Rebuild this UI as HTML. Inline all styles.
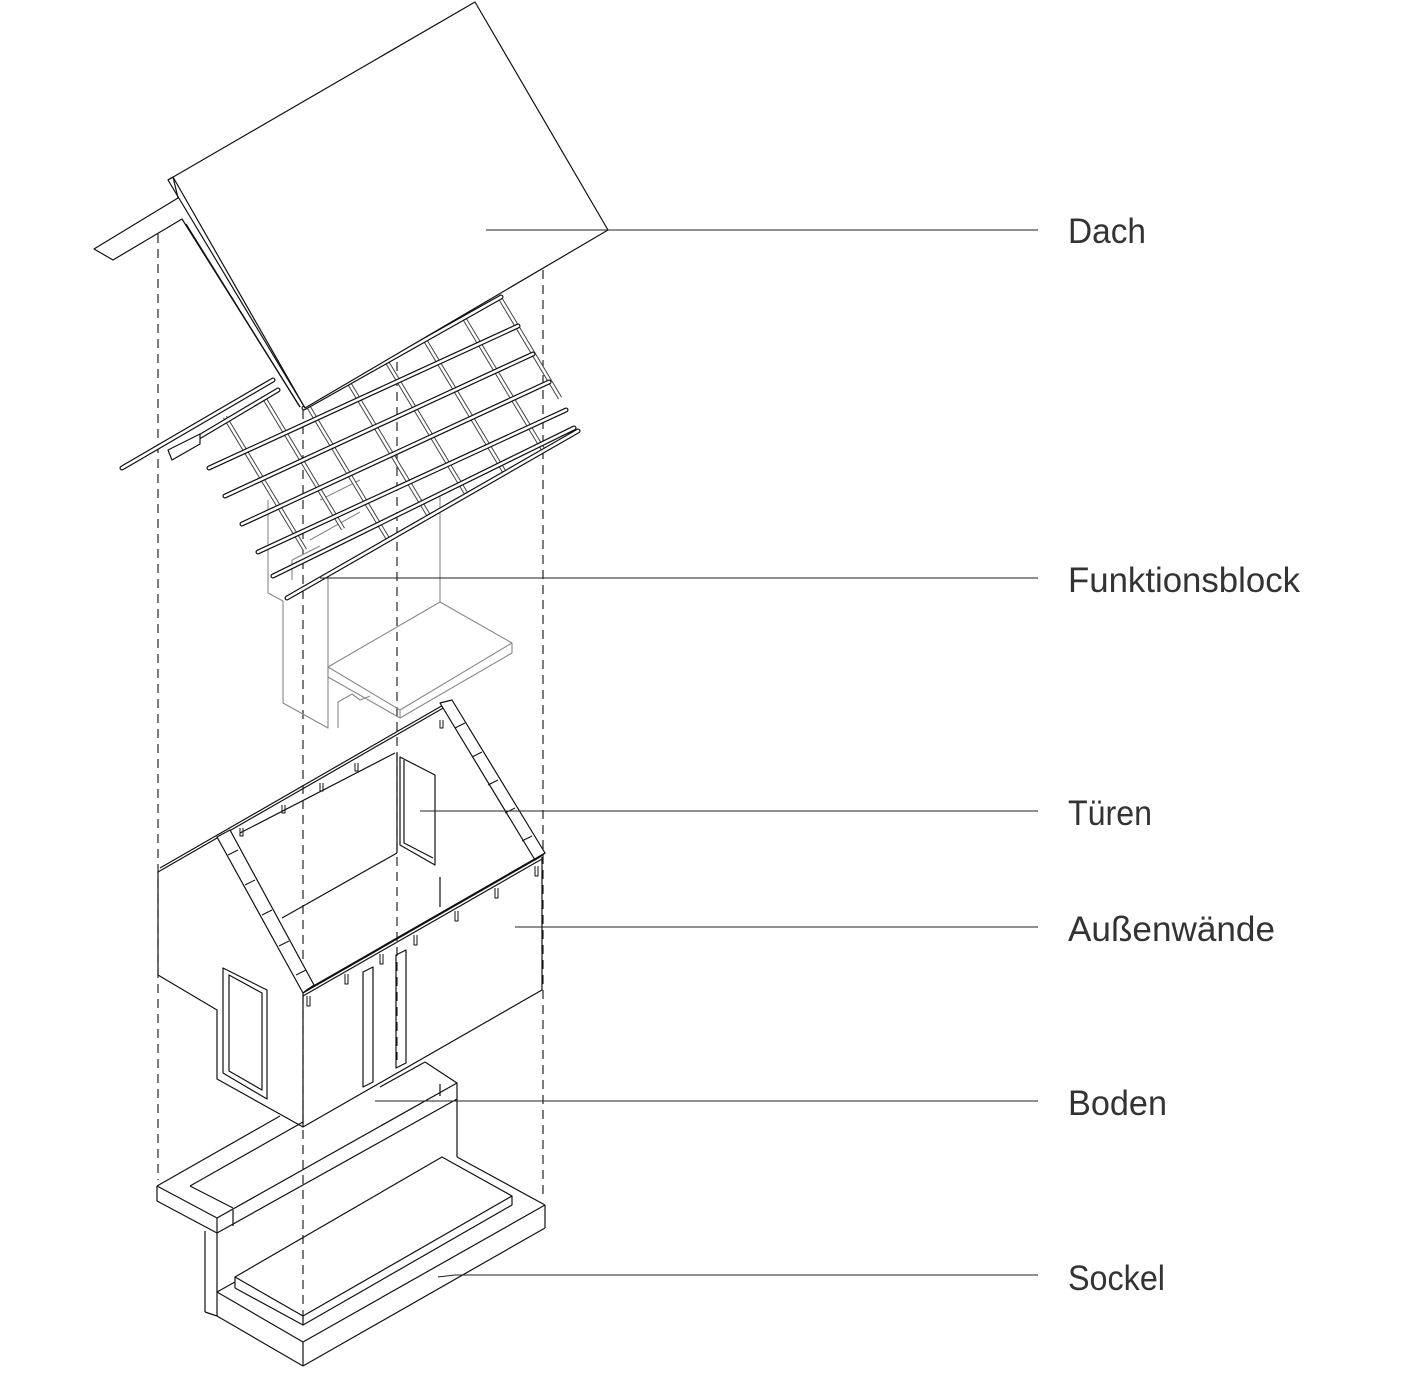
<!DOCTYPE html>
<html><head><meta charset="utf-8"><style>
html,body{margin:0;padding:0;background:#fff;}
svg{display:block;}
text{font-family:"Liberation Sans",sans-serif;font-size:35px;fill:#333;}
</style></head><body>
<svg width="1417" height="1375" viewBox="0 0 1417 1375" xmlns="http://www.w3.org/2000/svg">
<g fill="none" stroke="#111" stroke-width="1.2" stroke-linejoin="round">

<!-- dashed verticals -->
<g stroke-dasharray="9,6" stroke-width="1.1">
<line x1="158" y1="234" x2="158" y2="1180"/>
<line x1="303" y1="410" x2="303" y2="1320"/>
<line x1="397" y1="362" x2="397" y2="1060"/>
<line x1="543" y1="270" x2="543" y2="1200"/>
</g>

<!-- Funktionsblock (grey) -->
<g stroke="#888" stroke-width="1.1">
<polyline points="268,500 268,593 283,601 283,703 328,728 328,577"/>
<line x1="440" y1="493" x2="440" y2="602"/>
<polygon points="328,667 440,602 512,643 400,710"/>
<polyline points="328,667 328,677 400,718 512,653 512,643"/>
<line x1="400" y1="710" x2="400" y2="718"/>
<polyline points="338,702 338,728"/>
<polyline points="338,702 352,694 360,700 370,696"/>
<line x1="292" y1="560" x2="292" y2="580"/>
<line x1="292" y1="560" x2="320" y2="546"/>
<line x1="310" y1="540" x2="360" y2="512"/>
<line x1="320" y1="500" x2="360" y2="480"/>
</g>

<!-- rafter grid (double lines) -->
<g stroke="#444" stroke-width="4.5">
<path d="M225,417 L305,550 M263,396 L343,529 M308,406 L388,539 M349,383 L429,516 M387,362 L467,495 M425,340 L505,473 M464,318 L544,451 M500,298 L560,398"/>
</g>
<g stroke="#fff" stroke-width="2.5">
<path d="M225,417 L305,550 M263,396 L343,529 M308,406 L388,539 M349,383 L429,516 M387,362 L467,495 M425,340 L505,473 M464,318 L544,451 M500,298 L560,398"/>
</g>

<!-- rods -->
<g stroke="#111" stroke-width="5" stroke-linecap="round">
<path d="M304,408 L501,297 M209,468 L518,326 M225,496 L533,354 M242,524 L549,382 M258,552 L566,410 M273,576 L574,428 M287,598 L578,431 M194,440 L278,390 M122,468 L273,380"/>
</g>
<g stroke="#fff" stroke-width="2.6" stroke-linecap="round">
<path d="M304,408 L501,297 M209,468 L518,326 M225,496 L533,354 M242,524 L549,382 M258,552 L566,410 M273,576 L574,428 M287,598 L578,431 M194,440 L278,390 M122,468 L273,380"/>
</g>
<polygon points="168,450 200,434 200,444 172,460" fill="#fff"/>

<!-- roof -->
<polygon points="168,180 475,2 608,230 305,408" fill="#fff"/>
<polyline points="173,177 178,198 94,249 113,260 182,219 300,407"/>
<line x1="173" y1="177" x2="305" y2="408"/>
<line x1="168" y1="180" x2="173" y2="177"/>
<line x1="186" y1="224" x2="300" y2="407"/>

<!-- house walls -->
<polyline points="158,872 158,975 217,1010 217,1079 303,1127 303,993"/>
<line x1="303" y1="1127" x2="542" y2="990"/>
<line x1="542" y1="857" x2="542" y2="990"/>
<polygon points="223,968 267,990 267,1099 223,1073"/>
<polygon points="229,975 262,993 262,1090 229,1071"/>
<polygon points="363,972 373,967 373,1082 363,1087"/>
<polygon points="396,955 406,950 406,1063 396,1068"/>
<line x1="240" y1="833" x2="395" y2="753"/>
<line x1="397" y1="753" x2="397" y2="853"/>
<line x1="397" y1="853" x2="282" y2="918"/>
<polygon points="400,757 435,775 435,865 400,845"/>
<polyline points="404,760 404,843 433,858"/>
<line x1="440" y1="877" x2="440" y2="907"/>
<line x1="158" y1="872" x2="452" y2="703"/>
<line x1="160" y1="868" x2="452" y2="700"/>
<polygon points="217,837 230,830 314,985 303,993" fill="#fff"/>
<polygon points="440,703 452,700 545,853 535,860" fill="#fff"/>
<polygon points="303,993 540,857 545,853 308,989" fill="#fff"/>
<line x1="303" y1="996" x2="542" y2="859"/>
<g stroke-width="1">
<path d="M228,855 l10,-5 M245,885 l10,-5 M262,915 l10,-5 M279,946 l10,-5 M296,975 l10,-5"/>
<path d="M455,728 l10,-5 M472,757 l10,-5 M488,785 l10,-5 M505,813 l10,-5 M522,841 l10,-5"/>
<path d="M307,996 v10 h3 v-10 M345,974 v10 h3 v-10 M380,954 v10 h3 v-10 M414,935 v10 h3 v-10 M455,911 v10 h3 v-10 M495,888 v10 h3 v-10 M535,866 v10 h3 v-10"/>
<path d="M240,828 v8 h3 v-8 M282,805 v8 h3 v-8 M320,783 v8 h3 v-8 M355,763 v8 h3 v-8 M440,720 v8 h3 v-8"/>
</g>

<!-- Boden -->
<polyline points="157,1186 280,1116"/>
<polyline points="157,1186 157,1201 217,1233 457,1099 457,1083 425,1062"/>
<line x1="157" y1="1186" x2="217" y2="1218"/>
<line x1="217" y1="1218" x2="457" y2="1083"/>
<line x1="217" y1="1218" x2="217" y2="1233"/>
<line x1="233" y1="1210" x2="233" y2="1226"/>
<polyline points="190,1186 233,1208"/>
<line x1="190" y1="1186" x2="303" y2="1122"/>
<line x1="440" y1="1084" x2="440" y2="1096"/>
<line x1="425" y1="1062" x2="380" y2="1087"/>
<line x1="457" y1="1099" x2="457" y2="1157"/>
<line x1="205" y1="1231" x2="205" y2="1312"/>
<line x1="217" y1="1233" x2="217" y2="1316"/>
<line x1="205" y1="1312" x2="217" y2="1316"/>

<!-- Sockel -->
<line x1="457" y1="1157" x2="545" y2="1205"/>
<line x1="217" y1="1292" x2="303" y2="1342"/>
<line x1="217" y1="1316" x2="303" y2="1366"/>
<line x1="303" y1="1342" x2="545" y2="1205"/>
<line x1="303" y1="1366" x2="545" y2="1228"/>
<line x1="545" y1="1205" x2="545" y2="1228"/>
<line x1="303" y1="1342" x2="303" y2="1366"/>
<polyline points="235,1288 235,1277 442,1157 512,1196 512,1205 303,1325 235,1288"/>
<line x1="235" y1="1277" x2="303" y2="1316"/>
<line x1="303" y1="1316" x2="512" y2="1196"/>
<line x1="303" y1="1316" x2="303" y2="1325"/>
<line x1="217" y1="1292" x2="235" y2="1282"/>

<!-- leader lines -->
<g stroke="#222" stroke-width="1">
<line x1="486" y1="230" x2="1038" y2="230"/>
<line x1="320" y1="578" x2="1038" y2="578"/>
<line x1="420" y1="811" x2="1038" y2="811"/>
<line x1="515" y1="927" x2="1038" y2="927"/>
<line x1="375" y1="1101" x2="1038" y2="1101"/>
<polyline points="438,1277 455,1275 1038,1275"/>
</g>
</g>

<text x="1068" y="243" textLength="78" lengthAdjust="spacingAndGlyphs">Dach</text>
<text x="1068" y="592" textLength="232" lengthAdjust="spacingAndGlyphs">Funktionsblock</text>
<text x="1068" y="825" textLength="84" lengthAdjust="spacingAndGlyphs">Türen</text>
<text x="1068" y="941" textLength="207" lengthAdjust="spacingAndGlyphs">Außenwände</text>
<text x="1068" y="1115" textLength="99" lengthAdjust="spacingAndGlyphs">Boden</text>
<text x="1068" y="1290" textLength="97" lengthAdjust="spacingAndGlyphs">Sockel</text>
</svg>
</body></html>
